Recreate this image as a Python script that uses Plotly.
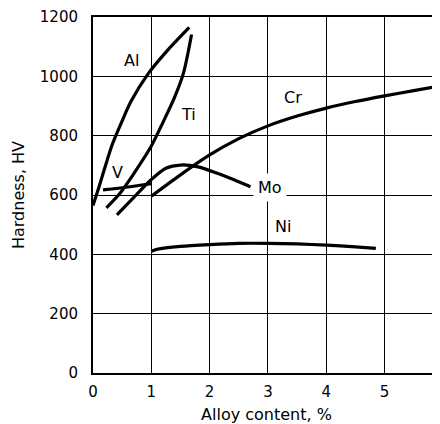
import plotly.graph_objects as go

# ---- data ----
al_x = [0.0, 0.1, 0.2, 0.33, 0.5, 0.65, 0.95, 1.27, 1.65]
al_y = [565, 625, 690, 770, 850, 915, 1010, 1086, 1165]

ti_x = [0.23, 0.46, 0.7, 1.0, 1.2, 1.4, 1.55, 1.69]
ti_y = [557, 605, 672, 765, 845, 930, 1010, 1141]

v_x = [0.17, 0.6, 1.0]
v_y = [617, 627, 638]

mo_x = [0.41, 0.7, 1.0, 1.25, 1.5, 1.8, 2.2, 2.7]
mo_y = [533, 592, 652, 690, 701, 695, 668, 628]

cr_x = [1.0, 1.5, 2.0, 2.5, 3.0, 3.5, 4.0, 4.5, 5.0, 5.5, 6.0]
cr_y = [596, 668, 735, 790, 833, 866, 893, 915, 934, 952, 969]

ni_x = [1.0, 1.1, 1.5, 2.0, 2.5, 3.0, 3.5, 4.0, 4.5, 4.85]
ni_y = [410, 417, 427, 433, 437, 437, 435, 431, 425, 420]

labels = ["Al", "Ti", "Cr", "V", "Mo", "Ni"]
label_x = [0.66, 1.63, 3.43, 0.42, 3.03, 3.25]
label_y = [1052, 872, 928, 676, 626, 493]
label_bg = [False, False, False, False, True, True]

x_ticks = [0, 1, 2, 3, 4, 5]
y_ticks = [0, 200, 400, 600, 800, 1000, 1200]

FONT = "DejaVu Sans"

fig = go.Figure()
for xs, ys in [(al_x, al_y), (ti_x, ti_y), (v_x, v_y), (mo_x, mo_y),
               (cr_x, cr_y), (ni_x, ni_y)]:
    fig.add_trace(go.Scatter(x=xs, y=ys, mode="lines",
                             line=dict(color="black", width=3.2, shape="spline",
                                       smoothing=0.8),
                             showlegend=False, hoverinfo="skip"))

for t, lx, ly, bg in zip(labels, label_x, label_y, label_bg):
    fig.add_annotation(x=lx, y=ly, xref="x", yref="y", text=t, showarrow=False,
                       font=dict(family=FONT, size=16, color="black"),
                       bgcolor="white" if bg else "rgba(0,0,0,0)",
                       borderpad=4 if bg else 0)

# partially visible "6" tick label at the clipped right edge
fig.add_annotation(x=1.0, y=0, xref="paper", yref="paper", text="6",
                   showarrow=False, xanchor="left", yanchor="top",
                   xshift=-5, yshift=-4,
                   font=dict(family=FONT, size=15, color="black"))

fig.update_layout(
    # the page body adds an 8 px margin, so the figure is sized to fit the window
    width=432, height=416,
    margin=dict(l=85, r=0, t=9, b=51),
    paper_bgcolor="white", plot_bgcolor="white",
    font=dict(family=FONT, color="black"),
    showlegend=False,
    xaxis=dict(range=[0, 5.95], tickvals=x_ticks, ticktext=[str(v) for v in x_ticks],
               showgrid=True, gridcolor="black", gridwidth=1,
               zeroline=False, showline=True, linecolor="black", linewidth=2,
               mirror=True, ticks="", ticklabelstandoff=4,
               tickfont=dict(family=FONT, size=15, color="black"),
               title=dict(text="Alloy content, %", standoff=12,
                          font=dict(family=FONT, size=16, color="black")),
               automargin=False, fixedrange=True),
    yaxis=dict(range=[0, 1200], tickvals=y_ticks, ticktext=[str(v) for v in y_ticks],
               showgrid=True, gridcolor="black", gridwidth=1,
               zeroline=False, showline=True, linecolor="black", linewidth=2,
               ticks="", ticklabelstandoff=10,
               tickfont=dict(family=FONT, size=15, color="black"),
               title=dict(text="Hardness, HV", standoff=11,
                          font=dict(family=FONT, size=16, color="black")),
               automargin=False, fixedrange=True),
)

fig.write_html("out.html")
